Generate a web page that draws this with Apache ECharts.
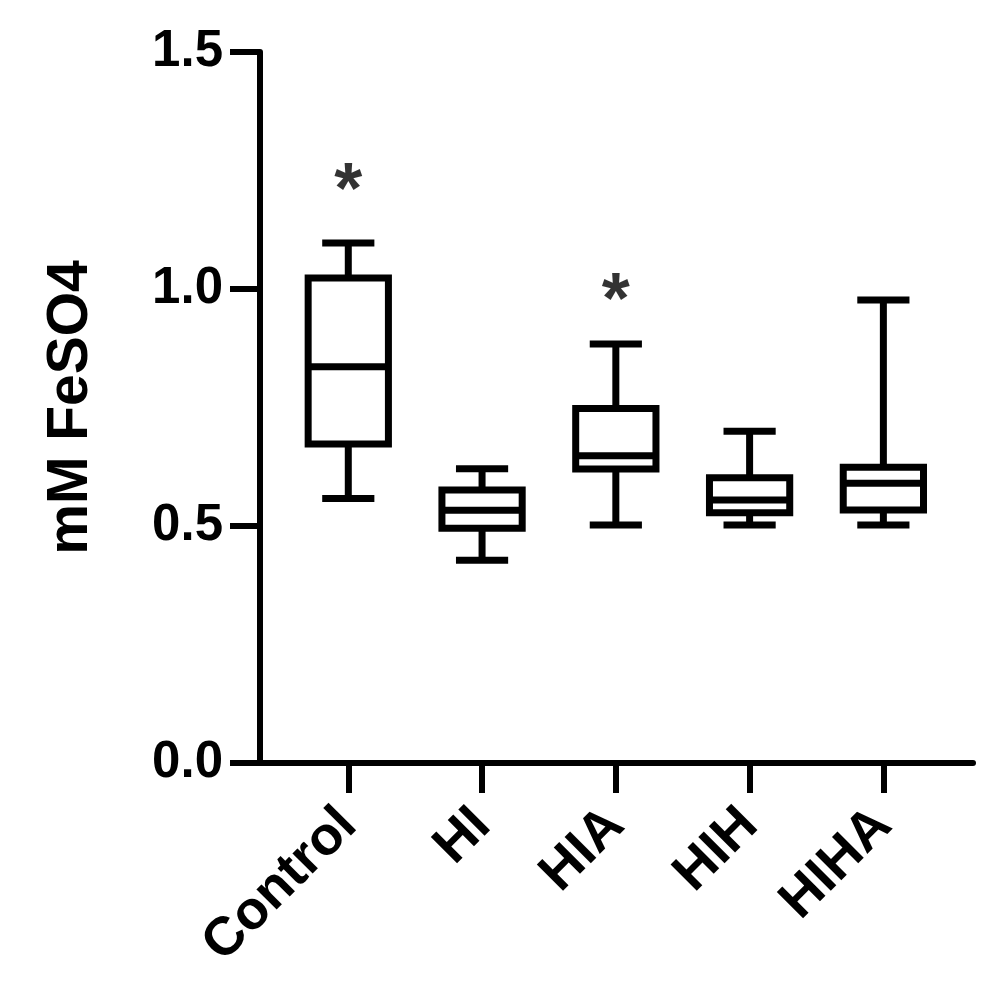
<!DOCTYPE html>
<html>
<head>
<meta charset="utf-8">
<script src="https://cdn.jsdelivr.net/npm/echarts@6/dist/echarts.min.js"></script>
<style>
  html, body { margin: 0; padding: 0; background: #fff; }
  #chart { width: 999px; height: 1001px; }
</style>
</head>
<body>
<div id="chart"></div>
<script>
// 数据
const categories = ['Control', 'HI', 'HIA', 'HIH', 'HIHA']
const minVals = [0.558, 0.428, 0.502, 0.502, 0.502]
const q1Vals = [0.673, 0.495, 0.620, 0.528, 0.534]
const medianVals = [0.836, 0.533, 0.648, 0.555, 0.590]
const q3Vals = [1.023, 0.576, 0.748, 0.602, 0.624]
const maxVals = [1.097, 0.621, 0.884, 0.700, 0.977]
// 显著性标记
const starIndex = [0, 2]
const starY = [1.23, 0.998]

const font = 'Arial, "Liberation Sans", sans-serif'
const catIndex = categories.map((c, i) => i)

const boxData = categories.map((c, i) => [i, minVals[i], q1Vals[i], medianVals[i], q3Vals[i], maxVals[i]])
const starData = starIndex.map((idx, i) => [idx, starY[i]])

function renderBox(params, api) {
  const x = api.value(0)
  const unit = api.size([1, 0])[0]
  const half = unit * 0.3
  const capHalf = unit * 0.195
  const pMin = api.coord([x, api.value(1)])
  const pQ1 = api.coord([x, api.value(2)])
  const pMed = api.coord([x, api.value(3)])
  const pQ3 = api.coord([x, api.value(4)])
  const pMax = api.coord([x, api.value(5)])
  const cx = pMin[0]
  const style = { stroke: '#000', lineWidth: 7, fill: null }
  return {
    type: 'group',
    children: [
      { type: 'line', shape: { x1: cx, y1: pMax[1], x2: cx, y2: pQ3[1] }, style },
      { type: 'line', shape: { x1: cx, y1: pQ1[1], x2: cx, y2: pMin[1] }, style },
      { type: 'line', shape: { x1: cx - capHalf, y1: pMax[1], x2: cx + capHalf, y2: pMax[1] }, style },
      { type: 'line', shape: { x1: cx - capHalf, y1: pMin[1], x2: cx + capHalf, y2: pMin[1] }, style },
      { type: 'rect', shape: { x: cx - half, y: pQ3[1], width: half * 2, height: pQ1[1] - pQ3[1] },
        style: { stroke: '#000', lineWidth: 7, fill: '#fff' } },
      { type: 'line', shape: { x1: cx - half, y1: pMed[1], x2: cx + half, y2: pMed[1] }, style }
    ]
  }
}

const myChart = echarts.init(document.getElementById('chart'))
const option = {
  backgroundColor: '#fff',
  animation: false,
  grid: { left: 260, right: 26, top: 52, bottom: 238 },
  xAxis: {
    type: 'value',
    min: -0.66,
    max: 4.67,
    splitLine: { show: false },
    axisLine: { show: true, onZero: false, lineStyle: { color: '#000', width: 6 } },
    axisTick: { show: true, length: 30, lineStyle: { color: '#000', width: 6 }, customValues: catIndex },
    axisLabel: {
      customValues: catIndex,
      formatter: v => categories[Math.round(v)],
      rotate: 45,
      margin: 54,
      color: '#000',
      fontSize: 54,
      fontWeight: 'bold',
      fontFamily: font
    }
  },
  yAxis: {
    type: 'value',
    min: 0,
    max: 1.5,
    interval: 0.5,
    name: 'mM FeSO4',
    nameLocation: 'middle',
    nameGap: 160,
    nameTextStyle: { color: '#000', fontSize: 57, fontWeight: 'bold', fontFamily: font },
    splitLine: { show: false },
    axisLine: { show: true, onZero: false, lineStyle: { color: '#000', width: 6 } },
    axisTick: { show: true, length: 30, lineStyle: { color: '#000', width: 6 } },
    axisLabel: {
      formatter: v => v.toFixed(1),
      margin: 37,
      color: '#000',
      fontSize: 51,
      fontWeight: 'bold',
      fontFamily: font
    }
  },
  series: [{
    type: 'custom',
    renderItem: renderBox,
    encode: { x: 0, y: [1, 2, 3, 4, 5] },
    data: boxData
  }, {
    type: 'scatter',
    symbolSize: 0,
    data: starData,
    label: {
      show: true,
      position: 'inside',
      formatter: '*',
      offset: [0, 13],
      color: '#000',
      fontSize: 72,
      fontWeight: 'bold',
      fontFamily: font
    }
  }]
}
myChart.setOption(option)
</script>
</body>
</html>
